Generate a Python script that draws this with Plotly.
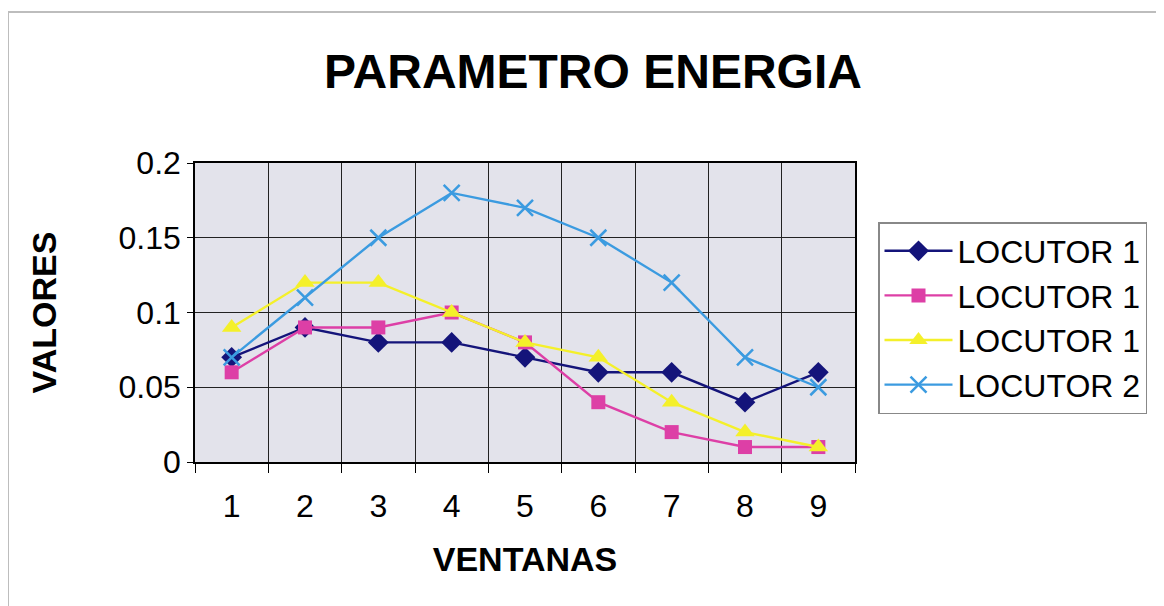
import plotly.graph_objects as go

ventanas = ["1", "2", "3", "4", "5", "6", "7", "8", "9"]
loc1_a = [0.07, 0.09, 0.08, 0.08, 0.07, 0.06, 0.06, 0.04, 0.06]
loc1_b = [0.06, 0.09, 0.09, 0.10, 0.08, 0.04, 0.02, 0.01, 0.01]
loc1_c = [0.09, 0.12, 0.12, 0.10, 0.08, 0.07, 0.04, 0.02, 0.01]
loc2 = [0.07, 0.11, 0.15, 0.18, 0.17, 0.15, 0.12, 0.07, 0.05]
names = ["LOCUTOR 1", "LOCUTOR 1", "LOCUTOR 1", "LOCUTOR 2"]
y_ticks = [0, 0.05, 0.1, 0.15, 0.2]
y_labels = ["0", "0.05", "0.1", "0.15", "0.2"]

# page body has an 8px margin; figure sized so plot lands at the reference spot
W, H = 1156, 598
L, T = 187, 155
PW, PH = 660, 299

fig = go.Figure()
styles = [
    (loc1_a, "#14147a", "diamond", 16, 0),
    (loc1_b, "#dd3fa6", "square", 14, 0),
    (loc1_c, "#f4f02a", "triangle-up", 17, 0),
    (loc2, "#3b9be0", "x-thin", 16, 2.5),
]
for (vals, col, sym, sz, lw), nm in zip(styles, names):
    fig.add_trace(go.Scatter(
        x=ventanas, y=vals, name=nm, mode="lines+markers",
        line=dict(color=col, width=2.4),
        marker=dict(symbol=sym, size=sz, color=col, line=dict(color=col, width=lw)),
    ))

fig.update_layout(
    width=W, height=H,
    margin=dict(l=L, r=W - L - PW, t=T, b=H - T - PH),
    paper_bgcolor="white",
    plot_bgcolor="#e3e3eb",
    font=dict(family="Arial, Liberation Sans, sans-serif", color="black"),
    title=dict(text="<b>PARAMETRO ENERGIA</b>", x=(593 - 8) / W, xanchor="center",
               y=1 - (71 - 8) / H, yanchor="middle", font=dict(size=48)),
    legend=dict(x=(878 - 195) / PW, xanchor="left", y=(462 - 222) / PH, yanchor="top",
                bgcolor="white", bordercolor="#888888", borderwidth=1.5,
                font=dict(size=32), tracegroupgap=0, itemwidth=68),
    showlegend=True,
)
fig.update_xaxes(
    type="category", tickson="boundaries", showgrid=True, gridcolor="#222222", gridwidth=1.2,
    showline=True, linecolor="black", linewidth=1.5, mirror=True,
    ticks="outside", ticklen=9, tickcolor="black", tickfont=dict(size=32),
    ticklabelstandoff=15,
    title=dict(text="<b>VENTANAS</b>", font=dict(size=34), standoff=24),
    range=[-0.5, 8.5],
)
fig.update_yaxes(
    range=[0, 0.2], tickvals=y_ticks, ticktext=y_labels, showgrid=True,
    gridcolor="#222222", gridwidth=1.2, zeroline=False,
    showline=True, linecolor="black", linewidth=1.5, mirror=True,
    ticks="outside", ticklen=6, tickcolor="black", tickfont=dict(size=32),
    ticklabelstandoff=0,
    title=dict(text="<b>VALORES</b>", font=dict(size=34), standoff=52),
)
fig.add_shape(type="rect", xref="paper", yref="paper",
              x0=(8 - 195) / PW, x1=(1175 - 195) / PW,
              y0=(462 - 620) / PH, y1=(462 - 12) / PH,
              line=dict(color="#bdbdbd", width=2), layer="below")

fig.write_html("out.html")
